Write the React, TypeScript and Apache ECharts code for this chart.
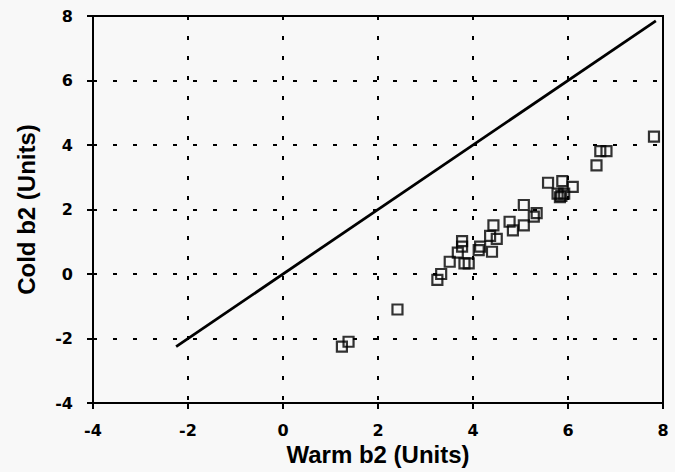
import React, { useEffect, useRef } from "react";
import * as echarts from "echarts";

const warmB2 = [1.24, 1.38, 2.41, 3.25, 3.33, 3.51, 3.68, 3.77, 3.77, 3.82, 3.91, 4.12, 4.15, 4.4, 4.36, 4.5, 4.43, 4.77, 4.84, 5.07, 5.07, 5.28, 5.34, 5.58, 5.88, 6.1, 5.78, 5.92, 5.83, 5.86, 6.6, 6.68, 6.81, 7.81];
const coldB2 = [-2.25, -2.1, -1.1, -0.18, 0.0, 0.38, 0.66, 1.02, 0.85, 0.33, 0.33, 0.74, 0.85, 0.69, 1.18, 1.09, 1.51, 1.62, 1.35, 1.51, 2.14, 1.78, 1.89, 2.83, 2.88, 2.7, 2.49, 2.49, 2.38, 2.42, 3.37, 3.81, 3.81, 4.26];
const lineX = [-2.25, 7.85];
const lineY = [-2.25, 7.85];
const xTicks = [-4, -2, 0, 2, 4, 6, 8];
const yTicks = [-4, -2, 0, 2, 4, 6, 8];
const xTitle = "Warm b2 (Units)";
const yTitle = "Cold b2 (Units)";

const font = "'Liberation Sans', Arial, Helvetica, sans-serif";
const tickFont = "'DejaVu Sans', 'Liberation Sans', sans-serif";

export default function App() {
  const ref = useRef<HTMLDivElement>(null);
  useEffect(() => {
    if (!ref.current) return;
    const chart = echarts.init(ref.current, null, { renderer: "svg" });
    chart.setOption({
      animation: false,
      backgroundColor: "#f8f8f8",
      grid: { left: 93, right: 12, top: 16, bottom: 69, show: true, borderColor: "#000", borderWidth: 2, backgroundColor: "transparent" },
      xAxis: [{
        type: "value",
        min: xTicks[0],
        max: xTicks[xTicks.length - 1],
        interval: 2,
        name: xTitle,
        nameLocation: "middle",
        nameGap: 39,
        nameTextStyle: { fontFamily: font, fontWeight: "bold", fontSize: 24, color: "#000" },
        axisLine: { show: true, onZero: false, lineStyle: { color: "#000", width: 2 } },
        axisTick: { show: true, inside: false, length: 6, lineStyle: { color: "#000", width: 2 } },
        axisLabel: { show: true, margin: 19, fontFamily: tickFont, fontWeight: "bold", fontSize: 16, color: "#000" },
        splitLine: { show: true, lineStyle: { color: "#000", width: 2, type: [4, 16] } },
      }],
      yAxis: [{
        type: "value",
        min: yTicks[0],
        max: yTicks[yTicks.length - 1],
        interval: 2,
        name: yTitle,
        nameLocation: "middle",
        nameGap: 55,
        nameTextStyle: { fontFamily: font, fontWeight: "bold", fontSize: 24, color: "#000" },
        axisLine: { show: true, onZero: false, lineStyle: { color: "#000", width: 2 } },
        axisTick: { show: true, inside: false, length: 6, lineStyle: { color: "#000", width: 2 } },
        axisLabel: { show: true, margin: 20, fontFamily: tickFont, fontWeight: "bold", fontSize: 16, color: "#000" },
        splitLine: { show: true, lineStyle: { color: "#000", width: 2, type: [4, 16] } },
      }],
      series: [
        {
          type: "line",
          data: lineX.map((x, i) => [x, lineY[i]]),
          showSymbol: false,
          lineStyle: { color: "#000", width: 2.8 },
        },
        {
          type: "scatter",
          data: warmB2.map((x, i) => [x, coldB2[i]]),
          symbol: "rect",
          symbolSize: 10,
          itemStyle: { color: "transparent", borderColor: "#000", borderWidth: 2.2 },
        },
      ],
    });
    return () => chart.dispose();
  }, []);
  return <div ref={ref} style={{ position: "fixed", left: 0, top: 0, width: 675, height: 472 }} />;
}
